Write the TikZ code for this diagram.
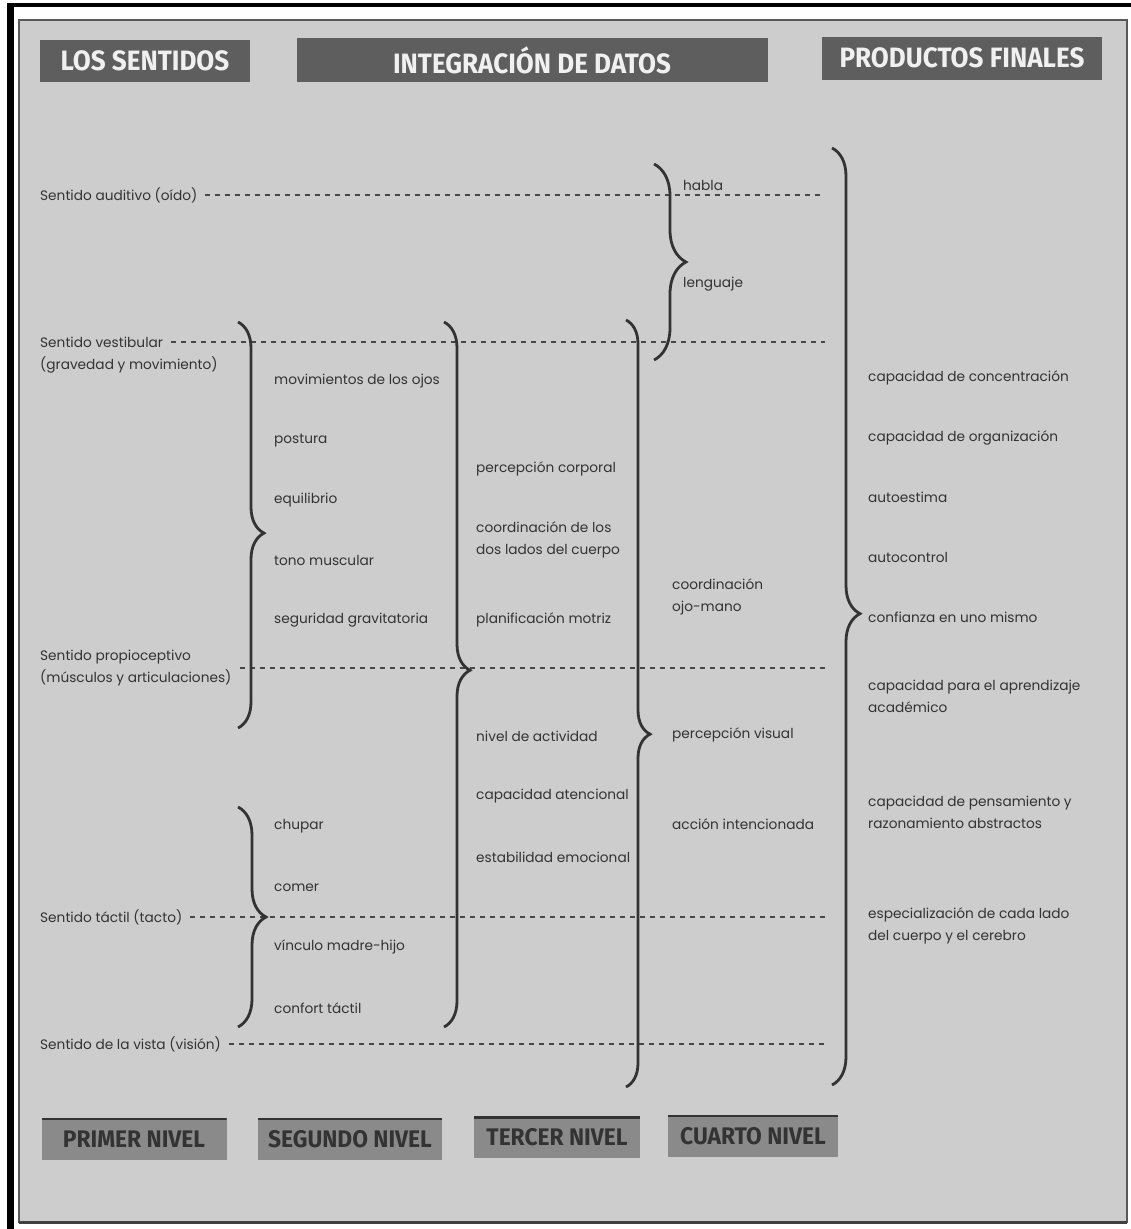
\documentclass[tikz,border=0pt]{standalone}
\usepackage{fontspec}
\setmainfont{Poppins}
\newfontfamily\headfont[FakeStretch=0.93]{Fira Sans}
\newfontfamily\footfont[FakeStretch=0.95]{Fira Sans}
\usetikzlibrary{positioning,decorations.pathreplacing}

\definecolor{panel}{HTML}{CDCDCD}
\definecolor{ink}{HTML}{333333}
\definecolor{headgray}{HTML}{5E5E5E}
\definecolor{footgray}{HTML}{8A8A8A}

\tikzset{
  head/.style={fill=headgray, text=white!94!black, inner sep=0pt,
    font=\headfont\bfseries\fontsize{28}{28}\selectfont},
  foot/.style={fill=footgray, text=ink, inner sep=0pt,
    font=\footfont\bfseries\fontsize{24}{24}\selectfont,
    path picture={\draw[ink, line width=4pt] (path picture bounding box.north west) -- (path picture bounding box.north east);}},
  lbl/.style={anchor=west, text=ink, align=left, inner sep=2pt,
    font=\fontsize{13.7}{22}\selectfont},
  rbrace/.style={draw=ink, line width=2.8pt, decorate,
    decoration={brace, amplitude=#1, aspect=\braceaspect}},
  rbrace/.default=26pt
}
\newcommand{\braceaspect}{0.5}

\begin{document}
\begin{tikzpicture}[x=1pt, y=-1pt]
  \useasboundingbox (0,0) rectangle (1131,1229);
  % frame
  \fill[white] (0,0) rectangle (1131,1229);
  \fill[black] (7,3) rectangle (1131,7);
  \fill[black] (7,3) rectangle (14,1229);
  \draw[fill=panel, draw=black!65, line width=1.5pt] (19,20) rectangle (1127,1222);
  \draw[black!75, line width=3pt] (19,1222) -- (1127,1222);

  % titles
  \node[head, minimum width=210pt, minimum height=42pt] (sentidos) at (145,61) {LOS SENTIDOS};
  \node[head, minimum width=471pt, minimum height=44pt] (integ) at (532,60) {INTEGRACIÓN DE DATOS};
  \node[head, minimum width=280pt, minimum height=43pt] (productos) at (962,58) {PRODUCTOS FINALES};

  \node[foot, minimum width=185pt, minimum height=42pt] (nivel1) at (134,1139) {PRIMER NIVEL};
  \node[foot, minimum width=184pt, minimum height=42pt] (nivel2) at (350,1139) {SEGUNDO NIVEL};
  \node[foot, minimum width=166pt, minimum height=41pt] (nivel3) at (557,1137) {TERCER NIVEL};
  \node[foot, minimum width=170pt, minimum height=42pt] (nivel4) at (753,1136) {CUARTO NIVEL};

  % senses
  \begin{scope}[every node/.style={lbl}]
    \node (aud) at (38,195) {Sentido auditivo (oído)};
    \node (ves) at (38,342) {Sentido vestibular};
    \node (ves2) at (38,365) {(gravedad y movimiento)};
    \node (pro) at (38,668) {Sentido propioceptivo\\(músculos y articulaciones)};
    \node (tac) at (38,917) {Sentido táctil (tacto)};
    \node (vis) at (38,1044) {Sentido de la vista (visión)};
  \end{scope}
  \coordinate (audE) at (825,195);
  \coordinate (vesE) at (825,342);
  \coordinate (proE) at (825,668);
  \coordinate (tacE) at (825,917);
  \coordinate (visE) at (825,1044);
  \begin{scope}[every edge/.style={draw=ink!90, line width=1.2pt, dash pattern=on 5pt off 5pt, shorten <=6pt}]
    \path (aud) edge (audE);
    \path (ves) edge (vesE);
    \path (pro) edge (proE);
    \path (tac) edge (tacE);
    \path (vis) edge (visE);
  \end{scope}

  % first level
  \begin{scope}[every node/.style={lbl}]
    \node (ojos) at (272,381) {movimientos de los ojos};
    \node (postura) at (272,441) {postura};
    \node (equil) at (272,500) {equilibrio};
    \node (tono) at (272,560) {tono muscular};
    \node (segur) at (272,620) {seguridad gravitatoria};
    \node (chupar) at (272,826) {chupar};
    \node (comer) at (272,888) {comer};
    \node (vinculo) at (272,947) {vínculo madre-hijo};
    \node (confort) at (272,1008) {confort táctil};
  % second level
    \node (corporal) at (474,469) {percepción corporal};
    \node (lados) at (474,540) {coordinación de los\\dos lados del cuerpo};
    \node (motriz) at (474,620) {planificación motriz};
    \node (activ) at (474,736) {nivel de actividad};
    \node (atenc) at (474,796) {capacidad atencional};
    \node (emoc) at (474,857) {estabilidad emocional};
  % third level
    \node (habla) at (681,185) {habla};
    \node (lenguaje) at (681,284) {lenguaje};
    \node (ojomano) at (670,597) {coordinación\\ojo-mano};
    \node (visual) at (670,735) {percepción visual};
    \node (accion) at (670,824) {acción intencionada};
  % final products
    \node (concen) at (866,378) {capacidad de concentración};
    \node (organiz) at (866,438) {capacidad de organización};
    \node (autoest) at (866,497) {autoestima};
    \node (autocont) at (866,557) {autocontrol};
    \node (confianza) at (866,617) {confianza en uno mismo};
    \node (aprend) at (866,696) {capacidad para el aprendizaje\\académico};
    \node (pensam) at (866,812) {capacidad de pensamiento y\\razonamiento abstractos};
    \node (especial) at (866,926) {especialización de cada lado\\del cuerpo y el cerebro};
  \end{scope}

  % braces
  \coordinate (b1t) at (238,322); \coordinate (b1b) at (238,728);
  \coordinate (b2t) at (238,807); \coordinate (b2b) at (238,1027);
  \coordinate (b3t) at (444,322); \coordinate (b3b) at (444,1027);
  \coordinate (b4t) at (626,320); \coordinate (b4b) at (626,1087);
  \coordinate (b5t) at (654,164); \coordinate (b5b) at (654,360);
  \coordinate (b6t) at (832,148); \coordinate (b6b) at (832,1085);
  \renewcommand{\braceaspect}{0.52}
  \draw[rbrace=26pt] (b1t) -- (b1b);
  \renewcommand{\braceaspect}{0.5}
  \draw[rbrace=28pt] (b2t) -- (b2b);
  \renewcommand{\braceaspect}{0.494}
  \draw[rbrace=26pt] (b3t) -- (b3b);
  \renewcommand{\braceaspect}{0.54}
  \draw[rbrace=24pt] (b4t) -- (b4b);
  \renewcommand{\braceaspect}{0.5}
  \draw[rbrace=32pt] (b5t) -- (b5b);
  \renewcommand{\braceaspect}{0.497}
  \draw[rbrace=28pt] (b6t) -- (b6b);
\end{tikzpicture}
\end{document}
